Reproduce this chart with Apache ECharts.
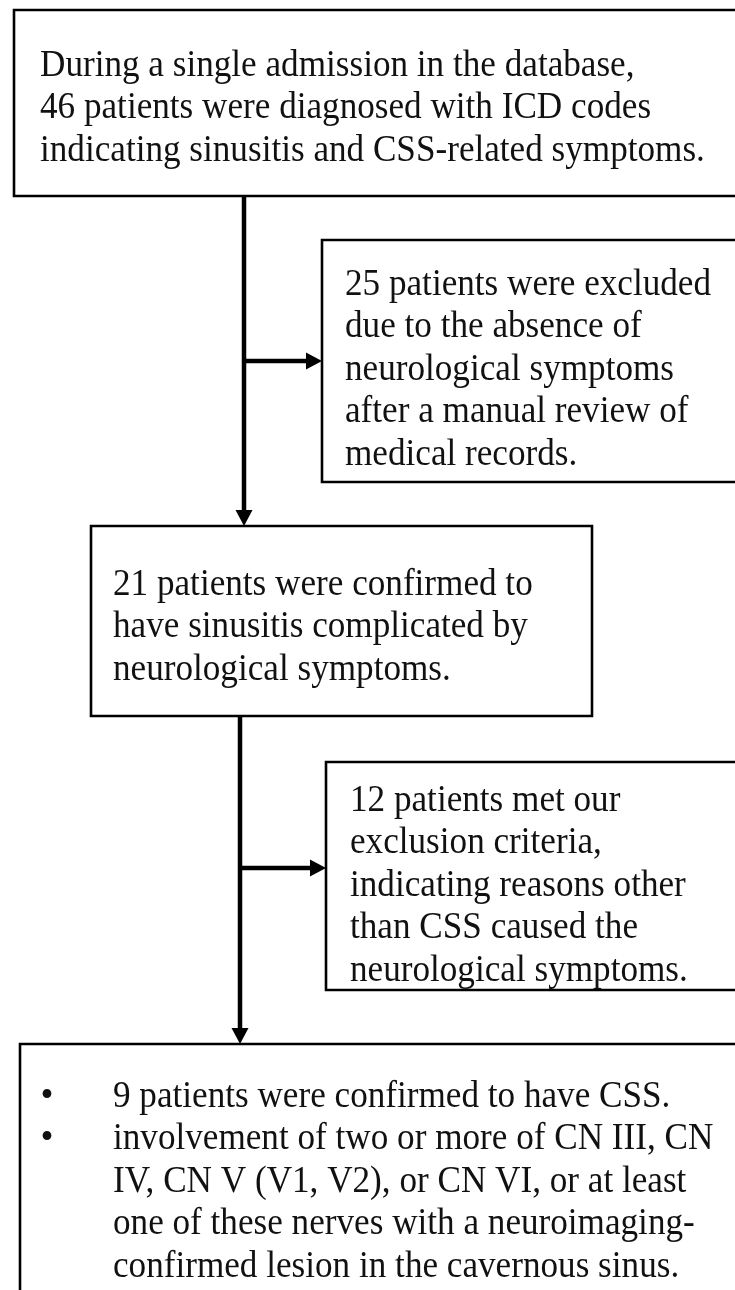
<!DOCTYPE html>
<html><head><meta charset="utf-8">
<script src="https://cdn.jsdelivr.net/npm/echarts@6/dist/echarts.min.js"></script>
<style>html,body{margin:0;padding:0;background:#fff}#c{width:735px;height:1290px}</style>
</head><body><div id="c"></div>
<script>
// ---- content ----
const boxTexts = [
  ["During a single admission in the database,", "46 patients were diagnosed with ICD codes", "indicating sinusitis and CSS-related symptoms."],
  ["25 patients were excluded", "due to the absence of", "neurological symptoms", "after a manual review of", "medical records."],
  ["21 patients were confirmed to", "have sinusitis complicated by", "neurological symptoms."],
  ["12 patients met our", "exclusion criteria,", "indicating reasons other", "than CSS caused the", "neurological symptoms."],
  ["9 patients were confirmed to have CSS.", "involvement of two or more of CN III, CN", "IV, CN V (V1, V2), or CN VI, or at least", "one of these nerves with a neuroimaging-", "confirmed lesion in the cavernous sinus."]
];
const bulletLines = [[], [], [], [], [0, 1]];
// ---- layout in chart units (x: 0..735, y: 0..1290 downward) ----
const boxRects = [[14, 10, 760, 196], [322, 240, 760, 482], [91, 526, 592, 716], [326, 762, 760, 990], [20, 1044, 760, 1320]];
const textOrigins = [[40, 77], [345, 296], [113, 596], [350, 812], [113, 1108]];
const bulletX = 47;
const connectors = [[244, 196, 244, 526], [244, 361, 322, 361], [240, 716, 240, 1044], [240, 868, 326, 868]];
const LINE_STEP = 42.5;
const FONT = '37px "Liberation Serif", "Times New Roman", serif';
const TEXT_SCALE_X = 0.95;

const chart = echarts.init(document.getElementById('c'), null, {renderer: 'canvas'});
chart.setOption({
  animation: false,
  backgroundColor: '#fff',
  grid: {left: 0, right: 0, top: 0, bottom: 0},
  xAxis: {type: 'value', min: 0, max: 735, show: false},
  yAxis: {type: 'value', min: 0, max: 1290, inverse: true, show: false},
  series: [
    {
      type: 'custom',
      clip: false,
      data: boxRects.map((r, i) => [r[0], r[1], r[2], r[3], i]),
      encode: {x: [0, 2], y: [1, 3]},
      renderItem: function (params, api) {
        const i = api.value(4);
        const p0 = api.coord([api.value(0), api.value(1)]);
        const p1 = api.coord([api.value(2), api.value(3)]);
        const children = [{
          type: 'rect',
          shape: {x: p0[0], y: p0[1], width: p1[0] - p0[0], height: p1[1] - p0[1]},
          style: {fill: '#fff', stroke: '#000', lineWidth: 2.6}
        }];
        boxTexts[i].forEach(function (t, k) {
          const o = api.coord([textOrigins[i][0], textOrigins[i][1] + k * LINE_STEP]);
          children.push({
            type: 'text',
            x: o[0], y: o[1] - 11, scaleX: TEXT_SCALE_X,
            style: {text: t, x: 0, y: 0, font: FONT, fill: '#111', align: 'left', verticalAlign: 'middle'}
          });
          if (bulletLines[i].indexOf(k) >= 0) {
            const b = api.coord([bulletX, textOrigins[i][1] + k * LINE_STEP]);
            children.push({
              type: 'text',
              style: {text: '\u2022', x: b[0], y: b[1] - 11, font: FONT, fill: '#111', align: 'center', verticalAlign: 'middle'}
            });
          }
        });
        return {type: 'group', children: children};
      }
    },
    {
      type: 'custom',
      clip: false,
      z: 3,
      data: connectors,
      encode: {x: [0, 2], y: [1, 3]},
      renderItem: function (params, api) {
        const a = api.coord([api.value(0), api.value(1)]);
        const b = api.coord([api.value(2), api.value(3)]);
        const dx = b[0] - a[0], dy = b[1] - a[1];
        const len = Math.sqrt(dx * dx + dy * dy);
        const ux = dx / len, uy = dy / len;
        const L = 16, W = 8.5;
        const base = [b[0] - ux * L, b[1] - uy * L];
        return {
          type: 'group',
          children: [
            {type: 'line', shape: {x1: a[0], y1: a[1], x2: base[0] + ux, y2: base[1] + uy}, style: {stroke: '#000', lineWidth: 4.5}},
            {type: 'polygon', shape: {points: [[b[0], b[1]], [base[0] - uy * W, base[1] + ux * W], [base[0] + uy * W, base[1] - ux * W]]}, style: {fill: '#000'}}
          ]
        };
      }
    }
  ]
});
</script>
</body></html>
